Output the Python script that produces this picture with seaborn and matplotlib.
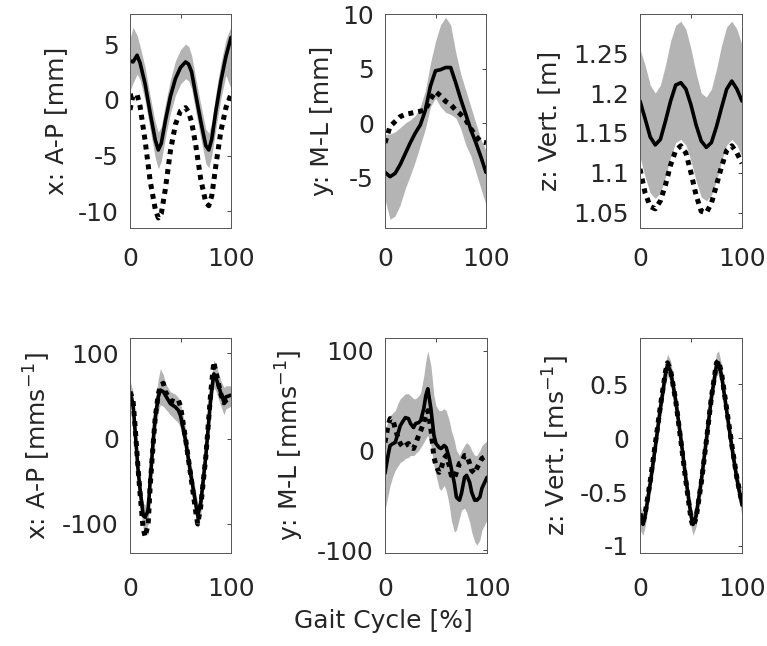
#!/usr/bin/env python3
#
# Trunk position and velocity over the gait cycle
#
import numpy as np
import matplotlib
matplotlib.use('Agg')
import matplotlib.pyplot as plt
import seaborn as sns

sns.set_style('white')
plt.rcParams['font.family'] = ['DejaVu Sans']
plt.rcParams['mathtext.default'] = 'regular'

#
# Data
#

# Position A-P [mm]
pos_x_t = [0, 3, 7, 10, 15, 20, 25, 28, 31, 35, 40, 45, 50, 55, 58, 61, 65,
           70, 75, 78, 81, 85, 90, 95, 100]
pos_x_mean = [3.5, 3.4, 4.0, 3.3, 1.4, -1.2, -3.6, -4.5, -3.9, -1.9, 0.3, 1.9,
              2.9, 3.4, 3.2, 2.5, 0.5, -1.9, -4.1, -4.5, -3.5, -1.0, 1.7, 3.9,
              5.6]
pos_x_hi = [5.5, 6.5, 5.8, 4.8, 2.9, 0.3, -2.0, -2.9, -2.4, -0.4, 1.8, 3.5,
            4.5, 5.0, 4.8, 4.0, 2.0, -0.4, -2.6, -3.0, -2.0, 0.6, 3.3, 5.4,
            6.6]
pos_x_lo = [0.8, 1.5, 2.3, 1.8, -0.1, -2.7, -5.2, -6.2, -5.5, -3.4, -1.2, 0.4,
            1.4, 1.9, 1.7, 1.0, -1.0, -3.4, -5.7, -6.1, -5.0, -2.6, 0.1, 2.2,
            1.0]
pos_x_other = [-0.9, 0.4, 0.5, -0.6, -3.7, -7.3, -9.8, -10.6, -10.2, -8.0,
               -4.6, -2.2, -1.0, -0.7, -1.1, -2.0, -4.0, -7.1, -9.2, -9.5,
               -8.6, -5.9, -2.8, -0.7, 0.5]

# Position M-L [mm]
pos_y_t = [0, 5, 10, 15, 20, 25, 30, 35, 40, 45, 50, 55, 60, 65, 70, 75, 80,
           85, 90, 95, 100]
pos_y_mean = [-4.5, -4.9, -4.6, -3.8, -2.8, -1.8, -0.9, -0.15, 1.2, 3.4, 4.8,
              4.9, 5.1, 5.1, 3.7, 2.2, 0.8, -0.6, -1.8, -3.1, -4.5]
pos_y_hi = [-1.0, -1.0, -0.8, -0.4, 0.0, 0.3, 0.7, 1.5, 3.0, 5.5, 7.5, 9.0,
            9.7, 9.0, 6.5, 4.5, 3.0, 1.5, 0.0, -1.5, -2.5]
pos_y_lo = [-7.0, -8.8, -8.5, -7.5, -6.0, -4.8, -3.5, -2.0, -0.5, 1.5, 2.3,
            1.5, 1.0, 0.8, 0.5, -0.5, -2.0, -3.0, -4.5, -6.0, -7.5]
pos_y_other = [-1.8, -0.3, 0.15, 0.6, 0.8, 0.9, 1.0, 1.1, 1.2, 2.2, 2.9, 2.5,
               2.0, 1.7, 1.2, 0.8, 0.3, -0.5, -1.2, -1.7, -1.8]

# Position Vert. [m]
pos_z_t = pos_y_t
pos_z_mean = [1.19, 1.168, 1.145, 1.135, 1.142, 1.165, 1.19, 1.21, 1.213,
              1.205, 1.185, 1.16, 1.14, 1.132, 1.138, 1.158, 1.182, 1.205,
              1.215, 1.205, 1.19]
pos_z_hi = [1.255, 1.235, 1.21, 1.2, 1.21, 1.235, 1.265, 1.285, 1.29, 1.28,
            1.255, 1.225, 1.2, 1.195, 1.205, 1.23, 1.26, 1.283, 1.29, 1.28,
            1.26]
pos_z_lo = [1.12, 1.095, 1.075, 1.068, 1.075, 1.095, 1.12, 1.138, 1.142,
            1.135, 1.115, 1.09, 1.07, 1.065, 1.072, 1.09, 1.115, 1.135, 1.142,
            1.135, 1.12]
pos_z_other = [1.105, 1.075, 1.058, 1.055, 1.065, 1.085, 1.11, 1.128, 1.134,
               1.125, 1.1, 1.072, 1.052, 1.05, 1.062, 1.085, 1.108, 1.128,
               1.134, 1.125, 1.112]

# Velocity A-P [mm/s]
vel_x_t = [0, 3, 5, 8, 10, 13, 15, 18, 20, 23, 25, 28, 30, 33, 35, 40, 45, 48,
           50, 55, 60, 65, 67, 70, 75, 80, 83, 85, 90, 93, 95, 100]
vel_x_mean = [53, 41, 10, -37, -60, -90, -92, -84, -49, -2, 25, 49, 57, 55,
              51, 41, 37, 33, 27, -2, -41, -76, -90, -76, -21, 49, 76, 72, 53,
              43, 49, 51]
vel_x_hi = [68, 55, 25, -22, -45, -75, -78, -68, -32, 15, 45, 70, 82, 75, 65,
            55, 52, 48, 42, 12, -28, -62, -75, -62, -5, 65, 92, 88, 68, 60,
            62, 62]
vel_x_lo = [38, 28, -5, -52, -75, -105, -110, -100, -66, -18, 10, 32, 40, 38,
            35, 28, 22, 18, 12, -16, -55, -92, -105, -90, -37, 33, 60, 56, 38,
            28, 35, 38]
vel_x_other = [55, 45, 15, -35, -65, -105, -115, -100, -55, -5, 25, 52, 62,
               65, 55, 45, 43, 45, 38, 0, -42, -85, -100, -80, -22, 55, 90,
               78, 52, 42, 45, 48]

# Velocity M-L [mm/s]
vel_y_t = [0, 3, 5, 8, 10, 13, 15, 18, 20, 23, 25, 28, 30, 33, 35, 38, 40, 42,
           45, 48, 50, 53, 55, 58, 60, 63, 65, 68, 70, 73, 75, 78, 80, 83, 85,
           88, 90, 93, 95, 100]
vel_y_mean = [-23, -5, 5, 7, 8, 18, 25, 30, 33, 32, 27, 23, 27, 28, 30, 42,
              55, 62, 42, 15, 7, 3, 2, 5, 3, -8, -18, -33, -47, -50, -43, -27,
              -25, -32, -42, -50, -50, -47, -38, -27]
vel_y_hi = [20, 30, 35, 38, 40, 48, 52, 55, 57, 57, 55, 52, 52, 55, 58, 75,
            90, 100, 85, 55, 45, 40, 40, 42, 40, 30, 20, 10, 0, -5, 0, 5, 8,
            5, 0, -5, -5, 0, 5, 10]
vel_y_lo = [-60, -45, -35, -25, -20, -15, -12, -10, -8, -7, -5, -5, -3, 0, 3,
            8, 12, 15, 5, -15, -25, -38, -40, -35, -40, -55, -70, -82, -80,
            -68, -60, -58, -62, -72, -82, -92, -95, -90, -80, -70]
vel_y_other = [8, 25, 32, 30, 22, 12, 7, 3, 5, 7, 3, 2, 7, 15, 20, 28, 35, 40,
               22, -7, -15, -22, -18, -8, -5, -15, -25, -28, -22, -13, -12,
               -5, -5, -13, -20, -23, -18, -12, -8, -5]

# Velocity Vert. [m/s]
vel_z_t = [0, 3, 5, 10, 15, 20, 25, 27, 30, 35, 40, 45, 50, 52, 55, 60, 65,
           70, 75, 77, 80, 85, 90, 95, 100]
vel_z_mean = [-0.72, -0.8, -0.72, -0.42, -0.08, 0.28, 0.6, 0.68, 0.62, 0.35,
              0.0, -0.38, -0.72, -0.8, -0.72, -0.4, -0.02, 0.38, 0.68, 0.7,
              0.58, 0.25, -0.08, -0.38, -0.62]
vel_z_hi = [-0.62, -0.7, -0.63, -0.33, 0.01, 0.38, 0.7, 0.78, 0.72, 0.44,
            0.09, -0.29, -0.62, -0.7, -0.63, -0.3, 0.08, 0.48, 0.79, 0.81,
            0.68, 0.35, 0.02, -0.28, -0.52]
vel_z_lo = [-0.85, -0.9, -0.82, -0.52, -0.17, 0.18, 0.5, 0.58, 0.52, 0.26,
            -0.09, -0.47, -0.82, -0.9, -0.82, -0.5, -0.12, 0.28, 0.58, 0.6,
            0.48, 0.15, -0.18, -0.48, -0.72]
vel_z_other = [-0.7, -0.78, -0.7, -0.4, -0.05, 0.3, 0.62, 0.7, 0.63, 0.35,
               -0.02, -0.4, -0.75, -0.82, -0.74, -0.42, -0.03, 0.38, 0.7,
               0.72, 0.6, 0.27, -0.06, -0.37, -0.6]

# Axis setup per panel
ylabels = [
    'x: A-P [mm]', 'y: M-L [mm]', 'z: Vert. [m]',
    'x: A-P [mms$^{-1}$]', 'y: M-L [mms$^{-1}$]', 'z: Vert. [ms$^{-1}$]',
]
yticks = [
    [-10, -5, 0, 5], [-5, 0, 5, 10], [1.05, 1.1, 1.15, 1.2, 1.25],
    [-100, 0, 100], [-100, 0, 100], [-1, -0.5, 0, 0.5],
]
yticklabels = [
    ['-10', '-5', '0', '5'], ['-5', '0', '5', '10'],
    ['1.05', '1.1', '1.15', '1.2', '1.25'],
    ['-100', '0', '100'], ['-100', '0', '100'], ['-1', '-0.5', '0', '0.5'],
]
ylims = [(-11.5, 7.7), (-9.6, 10.0), (1.031, 1.299),
         (-134, 118), (-103, 113), (-1.065, 0.93)]

series = [
    (pos_x_t, pos_x_lo, pos_x_hi, pos_x_mean, pos_x_other),
    (pos_y_t, pos_y_lo, pos_y_hi, pos_y_mean, pos_y_other),
    (pos_z_t, pos_z_lo, pos_z_hi, pos_z_mean, pos_z_other),
    (vel_x_t, vel_x_lo, vel_x_hi, vel_x_mean, vel_x_other),
    (vel_y_t, vel_y_lo, vel_y_hi, vel_y_mean, vel_y_other),
    (vel_z_t, vel_z_lo, vel_z_hi, vel_z_mean, vel_z_other),
]

#
# Create figure
#
W, H = 767, 646
fig = plt.figure(figsize=(W / 100, H / 100), dpi=100)

# axes boxes in pixels: left, top, right, bottom
boxes = [
    (130, 14, 231, 228), (385, 14, 486, 228), (640, 14, 742, 228),
    (130, 338, 231, 553), (385, 338, 487, 553), (640, 338, 742, 553),
]
# y label centres, in axes fractions
label_x = [-0.73, -0.62, -0.89, -0.92, -0.93, -0.82]

band = '#b4b4b4'
ink = '#262626'
fs = 18

for i, (l, t, r, b) in enumerate(boxes):
    ax = fig.add_axes([l / W, 1 - b / H, (r - l) / W, (b - t) / H])
    x, lo, hi, mean, other = series[i]

    ax.fill_between(x, lo, hi, color=band, linewidth=0)
    sns.lineplot(x=x, y=mean, ax=ax, color='black', linewidth=2.6,
                 estimator=None, sort=False)
    sns.lineplot(x=x, y=other, ax=ax, color='black', linewidth=3.6,
                 linestyle=(0, (1, 1.0)), dash_capstyle='butt',
                 estimator=None, sort=False)

    ax.set_xlim(0, 100)
    ax.set_ylim(*ylims[i])
    ax.set_xticks([0, 50, 100])
    ax.set_xticklabels(['0', '', '100'])
    ax.set_yticks(yticks[i])
    ax.set_yticklabels(yticklabels[i])
    ax.tick_params(direction='in', length=3, width=0.6, top=True, right=True,
                   labelsize=fs, colors=ink, labelcolor=ink)
    ax.tick_params(axis='x', pad=14 if i < 3 else 17)
    ax.tick_params(axis='y', pad=8)
    for s in ax.spines.values():
        s.set_color('#555555')
        s.set_linewidth(0.7)

    ax.set_ylabel(ylabels[i], fontsize=fs, color=ink, va='center')
    ax.yaxis.set_label_coords(label_x[i], 0.5)
    ax.set_xlabel('')

fig.text(383 / W, 1 - 621 / H, 'Gait Cycle [%]', fontsize=fs, color=ink,
         ha='center', va='center')

plt.savefig('out.png', dpi=100)
